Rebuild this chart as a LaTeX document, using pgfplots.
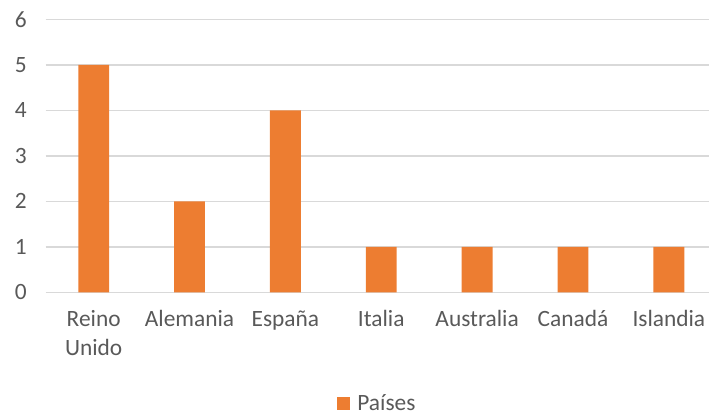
\documentclass[border=0pt]{standalone}
\usepackage{fontspec}
\setmainfont{Carlito}
\usepackage{pgfplots}
\pgfplotsset{compat=1.18}
\definecolor{barorange}{HTML}{ED7D31}
\definecolor{txtgray}{HTML}{595959}
\definecolor{gridgray}{HTML}{D9D9D9}
\begin{document}
\fontsize{23.5}{28}\selectfont
\begin{tikzpicture}
\begin{axis}[
  width=667pt, height=274.5pt, scale only axis,
  xmin=-0.5, xmax=6.42, ymin=0, ymax=6,
  ybar, bar width=31pt,
  axis line style={draw=none},
  tick style={draw=none},
  ymajorgrids, major grid style={gridgray, line width=1.7pt},
  ytick={0,1,2,3,4,5,6},
  xtick={0,1,2,3,4,5,6},
  xticklabels={{Reino\\Unido},Alemania,España,Italia,Australia,Canadá,Islandia},
  xticklabel style={align=center, text=txtgray, yshift=-6pt, font=\fontsize{23.5}{29}\selectfont},
  yticklabel style={text=txtgray, xshift=-11pt, font=\fontsize{23.5}{28}\selectfont},
  /pgf/number format/assume math mode=true,
  legend style={at={(0.5,-0.41)}, anchor=center, draw=none, fill=none,
    text=txtgray, font=\fontsize{23.5}{28}\selectfont},
  legend image code/.code={\fill[barorange] (0pt,-6pt) rectangle (13pt,7pt);},
  legend cell align=left,
]
\addplot[fill=barorange, draw=none] coordinates {(0,5) (1,2) (2,4) (3,1) (4,1) (5,1) (6,1)};
\addlegendentry{\hspace{5pt}Países}
\end{axis}
\path[use as bounding box] ([xshift=-46pt,yshift=-122pt]current axis.south west) rectangle ([yshift=19.5pt]current axis.north east);
\end{tikzpicture}
\end{document}
